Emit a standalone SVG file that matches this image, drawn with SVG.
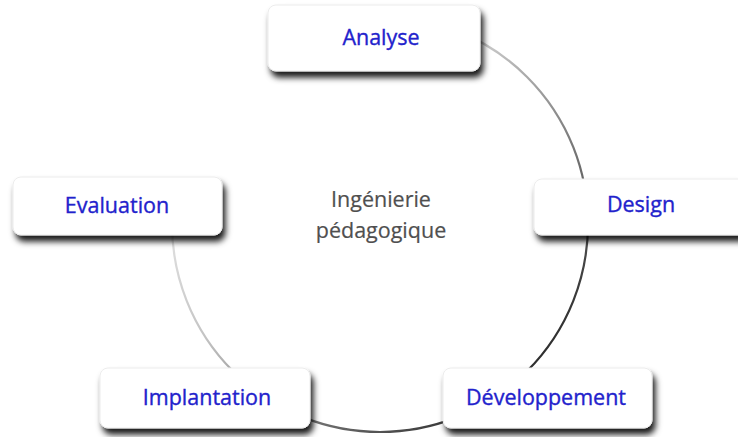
<svg xmlns="http://www.w3.org/2000/svg" width="738" height="437" viewBox="0 0 738 437">
  <defs>
    <filter id="shadow" x="-10%" y="-20%" width="125%" height="170%">
      <feDropShadow dx="3" dy="6" stdDeviation="3" flood-color="#000" flood-opacity="0.9"/>
    </filter>
    <!-- ring fades out toward the upper left and darkens toward the lower right -->
    <linearGradient id="ringStroke" gradientUnits="userSpaceOnUse" x1="180" y1="180" x2="480" y2="480">
      <stop offset="0" stop-color="#ffffff"/>
      <stop offset="0.1" stop-color="#dcdcdc"/>
      <stop offset="0.3" stop-color="#c4c4c4"/>
      <stop offset="0.57" stop-color="#808080"/>
      <stop offset="0.9" stop-color="#2e2e2e"/>
      <stop offset="1" stop-color="#222222"/>
    </linearGradient>
    <style>
      .box { fill: #ffffff; stroke: #ececec; stroke-width: 1; filter: url(#shadow); }
      .label { font-family: "Open Sans", "Noto Sans", "Liberation Sans", sans-serif; font-size: 21.5px; fill: #2222cc; stroke: #2222cc; stroke-width: 0.35; text-anchor: middle; }
      .center { font-family: "Open Sans", "Noto Sans", "Liberation Sans", sans-serif; font-size: 21.5px; fill: #4f4f4f; stroke: #4f4f4f; stroke-width: 0.2; text-anchor: middle; }
    </style>
  </defs>

  <rect width="738" height="437" fill="#ffffff"/>

  <!-- cycle ring behind the stages -->
  <g id="connectors">
    <circle cx="380" cy="224" r="208" fill="none" stroke="url(#ringStroke)" stroke-width="2.2"/>
  </g>

  <g id="center">
    <text class="center" x="381" y="207">Ingénierie</text>
    <text class="center" x="381" y="238">pédagogique</text>
  </g>

  <g id="analyse">
    <rect class="box" x="268" y="5" width="212" height="66" rx="8"/>
    <text class="label" x="381" y="45">Analyse</text>
  </g>

  <g id="design">
    <rect class="box" x="534" y="179" width="214" height="56" rx="8"/>
    <text class="label" x="641" y="212">Design</text>
  </g>

  <g id="developpement">
    <rect class="box" x="443" y="368" width="209" height="60" rx="8"/>
    <text class="label" x="546" y="405">Développement</text>
  </g>

  <g id="implantation">
    <rect class="box" x="100" y="368" width="210" height="60" rx="8"/>
    <text class="label" x="207" y="405">Implantation</text>
  </g>

  <g id="evaluation">
    <rect class="box" x="13" y="177" width="209" height="58" rx="8"/>
    <text class="label" x="117" y="213">Evaluation</text>
  </g>
</svg>
